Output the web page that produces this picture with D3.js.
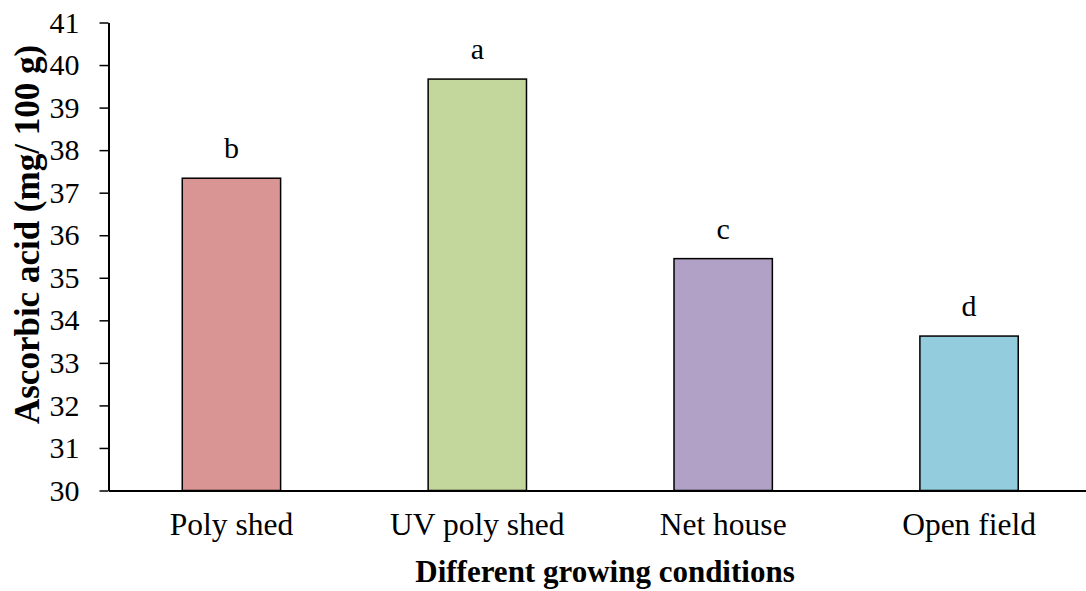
<!DOCTYPE html>
<html><head><meta charset="utf-8">
<script src="https://cdn.jsdelivr.net/npm/d3@7/dist/d3.min.js"></script>
<style>body{margin:0;background:#fff}svg{display:block}</style>
</head><body>
<script>
const categories = ["Poly shed", "UV poly shed", "Net house", "Open field"];
const values = [37.34, 39.67, 35.45, 33.63];
const letters = ["b", "a", "c", "d"];
const colors = ["#D99594", "#C3D69B", "#B2A1C7", "#93CDDD"];
const yTicks = [30, 31, 32, 33, 34, 35, 36, 37, 38, 39, 40, 41];
const xTitle = "Different growing conditions";
const yTitle = "Ascorbic acid (mg/ 100 g)";

const W = 1086, H = 591;
const font = "'Liberation Serif','Times New Roman',serif";
const svg = d3.select("body").append("svg").attr("width", W).attr("height", H);

const x = d3.scaleBand().domain(categories).range([108.5, 1092]).paddingInner(0.6).paddingOuter(0.3);
const y = d3.scaleLinear().domain([30, 41]).range([490.5, 22.5]);

svg.selectAll("rect.bar").data(values).enter().append("rect")
  .attr("class", "bar")
  .attr("x", (d, i) => x(categories[i]))
  .attr("width", x.bandwidth())
  .attr("y", d => y(d))
  .attr("height", d => y(30) - y(d))
  .attr("fill", (d, i) => colors[i])
  .attr("stroke", "#000").attr("stroke-width", 1.5);

svg.selectAll("text.lett").data(values).enter().append("text")
  .attr("x", (d, i) => x(categories[i]) + x.bandwidth() / 2)
  .attr("y", d => y(d) - 20)
  .attr("text-anchor", "middle")
  .attr("font-family", font).attr("font-size", 30)
  .text((d, i) => letters[i]);

const yAxis = svg.append("g").attr("transform", "translate(108.5,0)")
  .call(d3.axisLeft(y).tickValues(yTicks).tickFormat(d3.format("d")).tickSize(9).tickSizeOuter(0).tickPadding(20));
yAxis.attr("font-family", font);
yAxis.select(".domain").attr("stroke-width", 2);
yAxis.selectAll(".tick line").attr("stroke-width", 1.5);
yAxis.selectAll("text").attr("font-family", font).attr("font-size", 30).attr("fill", "#000");

const xAxis = svg.append("g").attr("transform", "translate(0,490.5)")
  .call(d3.axisBottom(x).tickSize(0).tickSizeOuter(0).tickPadding(22));
xAxis.attr("font-family", font);
xAxis.select(".domain").attr("stroke-width", 2);
xAxis.selectAll("text").attr("font-family", font).attr("font-size", 31.5).attr("fill", "#000");

svg.append("text").attr("x", 605).attr("y", 582).attr("text-anchor", "middle")
  .attr("font-family", font).attr("font-size", 31).attr("font-weight", "bold").text(xTitle);

svg.append("text").attr("transform", "translate(39,234.5) rotate(-90)").attr("text-anchor", "middle")
  .attr("font-family", font).attr("font-size", 35).attr("font-weight", "bold").text(yTitle);
</script>
</body></html>
